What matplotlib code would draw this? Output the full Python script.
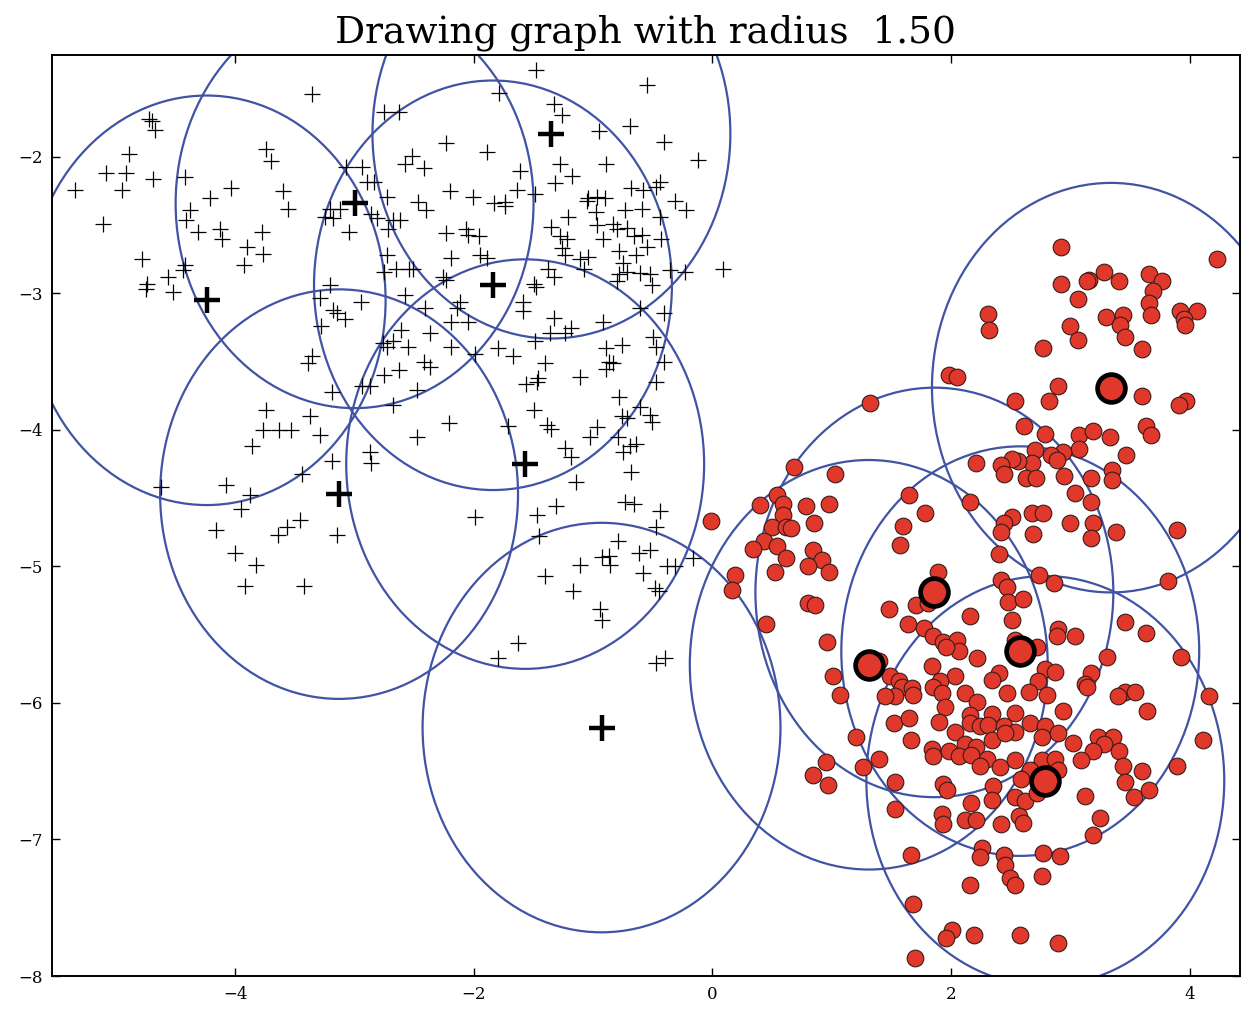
import numpy as np
import matplotlib.pyplot as plt
from matplotlib.patches import Circle

RADIUS = 1.5

# first class: small "+" samples
plus_x = [-3.36, -4.72, -4.70, -4.67, -4.89, -5.08, -4.92, -4.69, -5.34, -4.95,
          -5.11, -4.42, -4.04, -4.21, -4.38, -4.41, -4.31, -4.13, -4.11, -3.74,
          -3.70, -3.60, -3.56, -3.78, -3.90, -3.77, -3.93, -4.78, -4.42, -4.44,
          -4.56, -4.74, -4.75, -4.52, -3.07, -2.94, -2.90, -2.84, -3.21, -3.25,
          -3.18, -3.12, -2.86, -2.81, -3.05, -3.21, -3.29, -2.95, -3.18, -3.15,
          -3.08,
          -1.48, -0.55, -1.79, -1.33, -1.26, -0.95, -0.69, -0.41, -0.12, -2.75,
          -2.63, -2.23, -1.89, -2.52, -2.58, -2.42, -1.61, -1.28, -1.18, -1.32,
          -0.89, -2.20, -2.01, -1.64, -1.74, -1.74, -1.83, -1.49, -2.47, -2.40,
          -2.73, -2.68, -2.62, -2.72, -2.23, -2.07, -2.05, -1.96, -1.21, -1.04,
          -0.97, -0.90, -1.05, -0.98, -0.68, -0.58, -0.44, -0.47, -0.31, -0.22,
          -0.73, -0.59, -0.44, -1.35, -1.28, -1.22, -0.97, -0.83, -0.80, -0.72,
          -0.92, -0.66, -0.59, -0.43, -0.55, -0.78, -0.64, -1.26, -1.24, -2.19,
          -1.95, -1.89, -2.73, -1.11, -1.04, -1.08, -0.75, -0.72, -0.78, -0.61,
          -0.52, -0.36, -0.23, 0.09, -1.38, -1.33, -0.80, -0.51, -2.65, -2.54,
          -2.51, -2.75, -2.26, -2.23, -1.50, -1.48, -1.59, -1.59, -2.58, -2.41,
          -2.12, -2.14, -1.33, -0.92, -0.61, -0.41, -2.19, -2.05,
          -3.28, -2.61, -2.37, -2.76, -2.68, -2.73, -2.55, -3.36, -3.39, -2.42,
          -2.37, -2.63, -2.75, -2.94, -2.87, -3.19, -2.48, -2.68, -3.74, -3.37,
          -3.77, -3.63, -3.53, -3.29, -2.48, -3.86, -2.87, -2.86, -3.19, -3.44,
          -4.62, -4.08, -3.88, -3.95, -4.16, -3.64, -3.57, -3.46, -3.15, -4.00,
          -3.83, -3.92, -3.42,
          -2.19, -1.36, -1.24, -1.49, -1.19, -1.99, -1.80, -1.67, -0.89, -0.76,
          -0.87, -0.83, -0.89, -0.50, -0.47, -0.41, -1.40, -1.11, -1.56, -1.46,
          -1.47, -0.47, -0.78, -0.61, -0.52, -0.51, -1.50, -0.76, -0.72, -1.39,
          -1.35, -2.21, -1.71, -0.97, -1.03, -0.79, -0.64, -0.69, -0.75, -1.24,
          -1.19, -0.68, -1.14, -1.99, -1.47, -1.31, -0.73, -0.66, -0.44, -0.47,
          -1.45, -0.79, -0.93, -0.87, -0.86, -0.62, -0.52, -1.11, -0.16, -0.38,
          -0.31, -0.58, -1.40, -0.48, -0.45, -1.17, -0.94, -0.93, -1.63, -1.80,
          -0.47, -0.40]
plus_y = [-1.54, -1.72, -1.74, -1.80, -1.98, -2.12, -2.12, -2.16, -2.24, -2.24,
          -2.49, -2.15, -2.23, -2.30, -2.39, -2.46, -2.55, -2.53, -2.60, -1.94,
          -2.03, -2.25, -2.38, -2.55, -2.66, -2.71, -2.79, -2.75, -2.79, -2.83,
          -2.88, -2.93, -2.97, -2.99, -2.07, -2.07, -2.18, -2.18, -2.38, -2.44,
          -2.45, -2.38, -2.42, -2.45, -2.55, -2.94, -3.03, -3.06, -3.12, -3.14,
          -3.19,
          -1.36, -1.47, -1.53, -1.61, -1.69, -1.81, -1.77, -1.89, -2.02, -1.67,
          -1.67, -1.90, -1.96, -1.99, -2.05, -2.08, -2.10, -2.05, -2.14, -2.19,
          -2.05, -2.25, -2.29, -2.24, -2.33, -2.36, -2.34, -2.27, -2.33, -2.39,
          -2.29, -2.46, -2.46, -2.53, -2.56, -2.53, -2.57, -2.58, -2.44, -2.30,
          -2.29, -2.30, -2.32, -2.40, -2.23, -2.24, -2.18, -2.22, -2.32, -2.39,
          -2.39, -2.38, -2.44, -2.51, -2.58, -2.60, -2.50, -2.49, -2.53, -2.52,
          -2.60, -2.58, -2.57, -2.60, -2.66, -2.69, -2.72, -2.67, -2.72, -2.74,
          -2.72, -2.74, -2.72, -2.75, -2.73, -2.82, -2.78, -2.84, -2.86, -2.85,
          -2.86, -2.83, -2.84, -2.82, -2.82, -2.88, -2.91, -2.94, -2.82, -2.82,
          -2.82, -2.84, -2.88, -2.90, -2.93, -2.95, -3.06, -3.13, -3.01, -3.11,
          -3.06, -3.11, -3.18, -3.21, -3.11, -3.14, -3.21, -3.21,
          -3.24, -3.27, -3.29, -3.36, -3.35, -3.39, -3.39, -3.46, -3.51, -3.50,
          -3.54, -3.56, -3.60, -3.68, -3.68, -3.72, -3.71, -3.82, -3.85, -3.90,
          -4.00, -4.00, -4.00, -4.04, -4.05, -4.12, -4.16, -4.24, -4.23, -4.32,
          -4.42, -4.40, -4.48, -4.58, -4.73, -4.77, -4.71, -4.66, -4.77, -4.90,
          -4.99, -5.14, -5.14,
          -3.39, -3.29, -3.29, -3.35, -3.25, -3.44, -3.40, -3.46, -3.40, -3.38,
          -3.50, -3.51, -3.55, -3.32, -3.39, -3.50, -3.51, -3.61, -3.66, -3.62,
          -3.65, -3.65, -3.76, -3.83, -3.89, -3.94, -3.85, -3.90, -3.91, -3.96,
          -3.99, -3.95, -3.97, -3.98, -4.05, -4.05, -4.10, -4.12, -4.16, -4.13,
          -4.20, -4.31, -4.38, -4.64, -4.62, -4.56, -4.53, -4.54, -4.59, -4.71,
          -4.78, -4.81, -4.93, -4.92, -4.99, -4.90, -4.88, -4.99, -4.94, -5.00,
          -5.00, -5.05, -5.07, -5.16, -5.18, -5.18, -5.31, -5.39, -5.56, -5.67,
          -5.71, -5.67]

# second class: red disc samples
red_x = [-0.01, 0.19, 0.16, 1.32, 0.68, 1.03, 1.98, 2.05, 0.54, 0.59,
         0.59, 0.50, 0.62, 0.66, 0.40, 0.78, 0.98, 0.85, 0.43, 0.34,
         0.54, 0.62, 0.84, 0.92, 0.80, 0.98, 0.52, 1.65, 1.78, 1.60,
         1.57, 1.89, 0.80, 0.86, 0.45, 1.48, 1.71, 1.81, 1.64, 1.77,
         2.92, 4.23, 3.28, 3.16, 3.14, 3.41, 2.92, 3.06, 3.66, 3.77,
         3.69, 3.66, 3.68, 2.31, 2.32, 3.30, 3.44, 3.42, 3.46, 3.00,
         3.06, 3.92, 4.06, 3.95, 3.96, 2.77, 3.60, 2.90, 2.82, 3.60,
         3.97, 3.91, 2.54, 2.61, 2.79, 3.07, 3.19, 3.33, 3.63, 3.68,
         3.07, 2.94, 2.84, 2.89, 2.70, 2.68, 2.56, 2.51, 2.42, 2.44,
         2.21, 2.63, 2.71, 2.95, 3.17, 3.35, 3.35, 3.47, 3.04, 3.17,
         2.16,
         2.51, 2.44, 2.42, 2.68, 2.77, 2.69, 2.40, 2.74, 2.42, 2.47,
         2.48, 2.60, 2.16, 2.51, 1.85, 1.93, 2.05, 2.07, 1.96, 2.22,
         2.54, 2.72, 0.96, 1.40, 1.84, 2.03, 1.91, 1.85, 1.49, 1.56,
         1.59, 1.67, 1.68, 1.53, 1.45, 1.01, 1.07, 2.40, 2.34, 2.79,
         2.73, 2.65, 2.47, 2.12, 1.92,
         3.19, 3.00, 3.17, 3.38, 3.89, 2.86, 3.82, 3.46, 3.63, 2.90,
         2.89, 3.04, 3.31, 3.93, 2.87, 3.17, 3.12, 3.14, 2.80, 3.46,
         3.54, 3.40, 4.16,
         1.52, 1.20, 0.95, 0.84, 0.97, 1.26, 1.40, 1.53, 1.53,
         1.95, 2.22, 2.16, 2.34, 2.54, 2.94, 1.65, 1.90, 2.03, 2.16,
         2.24, 2.31, 2.44, 2.54, 2.66, 2.79, 2.90, 2.76, 1.66, 2.12,
         2.21, 2.34, 2.45, 1.84, 1.85, 1.98, 2.07, 2.17, 2.30, 2.24,
         2.41, 2.54, 2.76, 2.87, 2.90, 2.66, 1.93, 1.97, 2.35, 2.34,
         2.59, 2.54, 2.62, 2.72, 2.17, 1.92, 1.93, 2.12, 2.21, 2.42,
         2.57, 2.60, 1.66, 2.26, 2.24, 2.44, 2.45, 2.77, 2.91, 2.49,
         2.54, 2.76, 2.16, 1.68, 2.01, 1.96, 2.19, 2.58, 2.90, 1.70,
         3.64, 3.02, 3.23, 3.36, 3.28, 3.19, 3.41, 3.09, 3.44, 3.60,
         3.46, 3.53, 3.66, 4.11, 3.89, 3.12, 3.25, 3.19]
red_y = [-4.67, -5.06, -5.17, -3.80, -4.27, -4.32, -3.60, -3.61, -4.48, -4.54,
         -4.62, -4.71, -4.71, -4.72, -4.55, -4.56, -4.54, -4.68, -4.81, -4.87,
         -4.85, -4.94, -4.88, -4.95, -5.00, -5.04, -5.04, -4.48, -4.61, -4.70,
         -4.84, -5.04, -5.27, -5.28, -5.42, -5.31, -5.28, -5.27, -5.42, -5.45,
         -2.66, -2.75, -2.84, -2.90, -2.91, -2.91, -2.93, -3.04, -2.86, -2.91,
         -2.98, -3.07, -3.16, -3.15, -3.27, -3.17, -3.16, -3.23, -3.32, -3.24,
         -3.34, -3.13, -3.13, -3.19, -3.23, -3.40, -3.41, -3.68, -3.79, -3.75,
         -3.79, -3.82, -3.79, -3.97, -4.03, -4.04, -4.01, -4.05, -3.97, -4.04,
         -4.14, -4.16, -4.18, -4.22, -4.15, -4.24, -4.23, -4.21, -4.26, -4.32,
         -4.24, -4.35, -4.35, -4.34, -4.35, -4.29, -4.37, -4.18, -4.46, -4.53,
         -4.53,
         -4.64, -4.68, -4.75, -4.61, -4.61, -4.76, -4.91, -5.06, -5.10, -5.15,
         -5.26, -5.24, -5.36, -5.39, -5.51, -5.55, -5.54, -5.62, -5.59, -5.67,
         -5.54, -5.59, -5.55, -5.69, -5.73, -5.80, -5.84, -5.88, -5.80, -5.84,
         -5.88, -5.89, -5.94, -5.95, -5.95, -5.80, -5.94, -5.78, -5.83, -5.75,
         -5.84, -5.92, -5.93, -5.93, -5.93,
         -4.68, -4.68, -4.79, -4.75, -4.73, -5.12, -5.11, -5.41, -5.49, -5.46,
         -5.51, -5.51, -5.66, -5.66, -5.77, -5.78, -5.86, -5.88, -5.94, -5.92,
         -5.92, -5.95, -5.95,
         -6.15, -6.25, -6.43, -6.53, -6.60, -6.47, -6.41, -6.58, -6.78,
         -6.03, -5.99, -6.09, -6.08, -6.07, -6.06, -6.11, -6.14, -6.21, -6.15,
         -6.17, -6.16, -6.17, -6.21, -6.15, -6.17, -6.22, -6.25, -6.27, -6.30,
         -6.32, -6.27, -6.22, -6.34, -6.39, -6.35, -6.39, -6.38, -6.41, -6.46,
         -6.47, -6.42, -6.42, -6.41, -6.49, -6.49, -6.59, -6.64, -6.61, -6.71,
         -6.56, -6.69, -6.72, -6.66, -6.73, -6.81, -6.89, -6.86, -6.86, -6.89,
         -6.83, -6.88, -7.11, -7.06, -7.13, -7.11, -7.19, -7.10, -7.12, -7.28,
         -7.33, -7.27, -7.33, -7.47, -7.66, -7.72, -7.70, -7.70, -7.76, -7.87,
         -6.06, -6.29, -6.25, -6.25, -6.30, -6.35, -6.35, -6.42, -6.46, -6.50,
         -6.58, -6.69, -6.64, -6.27, -6.46, -6.68, -6.84, -6.97]

# graph nodes (circle centres) for each class
plus_cx = [-4.24, -3.00, -1.35, -1.84, -1.57, -3.13, -0.93]
plus_cy = [-3.05, -2.34, -1.83, -2.94, -4.25, -4.47, -6.18]
red_cx = [3.34, 1.86, 1.31, 2.58, 2.79]
red_cy = [-3.69, -5.19, -5.72, -5.62, -6.57]

plt.rcParams['font.family'] = 'DejaVu Serif'
plt.rcParams['axes.unicode_minus'] = True

fig = plt.figure(figsize=(12.45, 10.09), dpi=100)
ax = fig.add_axes([0.0418, 0.0327, 0.9540, 0.9128])

circle_col = '#4153a4'
for cx, cy in zip(plus_cx + red_cx, plus_cy + red_cy):
    ax.add_patch(Circle((cx, cy), RADIUS, fill=False, ec=circle_col, lw=1.6, zorder=2))

ax.plot(plus_x, plus_y, '+', color='k', ms=11, mew=0.9, zorder=3)
ax.plot(red_x, red_y, 'o', mfc='#e0392c', mec='#3a1a18', ms=12, mew=0.8, zorder=3)

ax.plot(plus_cx, plus_cy, '+', color='k', ms=19, mew=3.2, zorder=4)
ax.plot(red_cx, red_cy, 'o', mfc='#e0392c', mec='k', ms=20, mew=3.4, zorder=4)

ax.set_xlim(-5.536, 4.42)
ax.set_ylim(-8, -1.253)
ax.set_xticks([-4, -2, 0, 2, 4])
ax.set_yticks([-8, -7, -6, -5, -4, -3, -2])
ax.tick_params(direction='in', top=True, right=True, length=6, width=1,
               labelsize=12, pad=7)
for sp in ax.spines.values():
    sp.set_linewidth(1.4)

ax.set_title('Drawing graph with radius  %.2f' % RADIUS, fontsize=27, pad=9)

fig.savefig('out.png', dpi=100)
